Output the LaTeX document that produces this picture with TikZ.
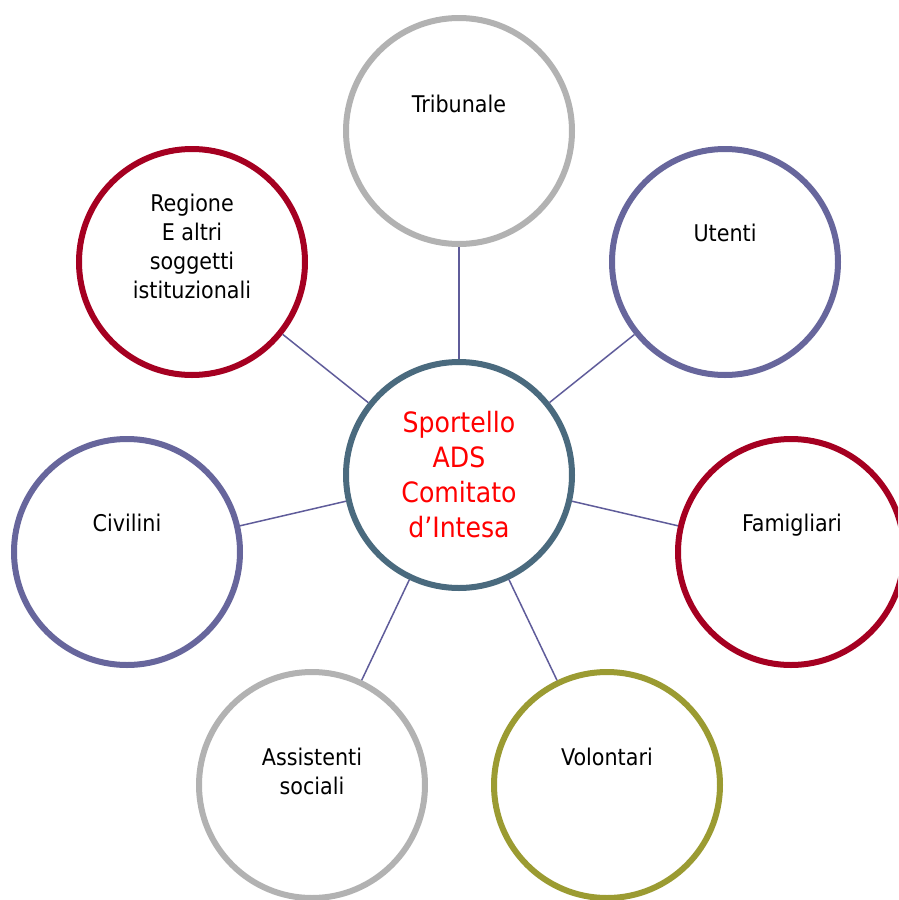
\documentclass[tikz,border=0pt]{standalone}
\usepackage{fontspec}
\setmainfont{DejaVu Sans Condensed}
\definecolor{ringgray}{HTML}{B2B2B2}
\definecolor{ringpurple}{HTML}{67669C}
\definecolor{ringred}{HTML}{A50021}
\definecolor{ringolive}{HTML}{9B9B32}
\definecolor{ringcenter}{HTML}{4A6A7E}
\definecolor{linkcol}{HTML}{5F5C9A}
\tikzset{
  ring/.style={circle, draw=#1, line width=6pt, minimum size=226pt, inner sep=0pt, fill=white},
  lbl/.style={font=\fontsize{23pt}{29pt}\selectfont, text=black, align=center, anchor=base, inner sep=0pt},
  ctr/.style={font=\fontsize{28pt}{35pt}\selectfont, text=red, align=center, anchor=base, inner sep=0pt},
  link/.style={draw=linkcol, line width=1.5pt},
}
\begin{document}
\begin{tikzpicture}[x=1pt,y=-1pt]
\useasboundingbox (0,0) rectangle (898,900);
\clip (0,0) rectangle (898,900);
\node[ring=ringcenter] (c) at (459,475) {};
\node[ring=ringgray] (trib) at (459,131) {};
\node[ring=ringpurple] (uten) at (725,262) {};
\node[ring=ringred] (regi) at (192,262) {};
\node[ring=ringpurple] (civi) at (127,552) {};
\node[ring=ringred] (fami) at (791,552) {};
\node[ring=ringgray] (assi) at (312,785) {};
\node[ring=ringolive] (volo) at (607,785) {};
\foreach \n in {trib,uten,regi,civi,fami,assi,volo} \draw[link] (c) -- (\n);
\node[ctr] (tc) at (459,537) {Sportello\\ADS\\Comitato\\d’Intesa};
\node[lbl] (t1) at (459,112) {Tribunale};
\node[lbl] (t2) at (725,241) {Utenti};
\node[lbl] (t3) at (192,298) {Regione\\E altri\\soggetti\\istituzionali};
\node[lbl] (t4) at (127,531) {Civilini};
\node[lbl] (t5) at (792,531) {Famigliari};
\node[lbl] (t6) at (312,794) {Assistenti\\sociali};
\node[lbl] (t7) at (607,765) {Volontari};
\end{tikzpicture}
\end{document}
